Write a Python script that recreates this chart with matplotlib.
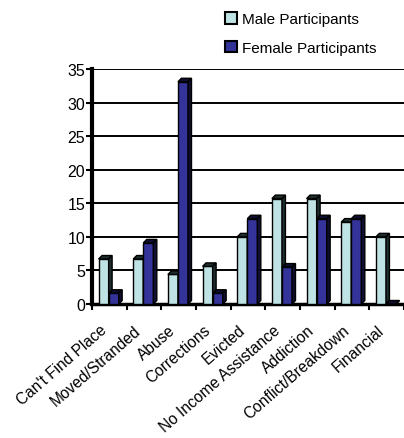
import numpy as np
import matplotlib.pyplot as plt
from matplotlib.patches import Polygon, Patch
from matplotlib.transforms import ScaledTranslation

categories = ["Can't Find Place", "Moved/Stranded", "Abuse", "Corrections",
              "Evicted", "No Income Assistance", "Addiction",
              "Conflict/Breakdown", "Financial"]
male = [6.7, 6.7, 4.4, 5.6, 10.0, 15.7, 15.7, 12.2, 10.0]
female = [1.6, 9.1, 33.1, 1.6, 12.7, 5.5, 12.7, 12.7, 0.0]
yticks = [0, 5, 10, 15, 20, 25, 30, 35]

male_color = '#bfe3e4'
female_color = '#333399'
male_side = '#1e2e2e'
female_side = '#0e0e30'

plt.rcParams['font.family'] = ['Liberation Sans', 'DejaVu Sans']

fig = plt.figure(figsize=(4.04, 4.39), dpi=100)
ax = fig.add_axes([92 / 404, 1 - 305 / 439, 312 / 404, 235 / 439])

bar_w = 0.29
dx, dy = 0.10, 0.52  # depth of the pseudo-3d faces (data units)


def draw_bar(x0, h, face, side):
    ax.bar(x0, h, width=bar_w, align='edge', color=face, edgecolor='black',
           linewidth=1.0, zorder=3)
    top = Polygon([(x0, h), (x0 + dx, h + dy), (x0 + bar_w + dx, h + dy),
                   (x0 + bar_w, h)], closed=True, facecolor=side,
                  edgecolor='black', linewidth=1.0, zorder=3)
    rside = Polygon([(x0 + bar_w, 0), (x0 + bar_w + dx, dy),
                     (x0 + bar_w + dx, h + dy), (x0 + bar_w, h)], closed=True,
                    facecolor=side, edgecolor='black', linewidth=1.0, zorder=3)
    ax.add_patch(top)
    ax.add_patch(rside)


x = np.arange(len(categories))
for i in x:
    draw_bar(i + 0.19, male[i], male_color, male_side)
    draw_bar(i + 0.19 + bar_w, female[i], female_color, female_side)

ax.set_xlim(0, len(categories))
ax.set_ylim(0, 35)
ax.set_yticks(yticks)
ax.yaxis.grid(True, color='black', linewidth=1.4, zorder=0)
ax.set_axisbelow(True)

ax.set_xticks(np.arange(len(categories) + 1))
ax.set_xticklabels([])
ax.set_xticks(x + 0.5, minor=True)
ax.set_xticklabels(categories, minor=True, rotation=41, ha='right',
                   va='top', rotation_mode='anchor', fontsize=11.2)
ax.tick_params(axis='x', which='minor', length=0, pad=13)
shift = ScaledTranslation(-10 / 100, 0, fig.dpi_scale_trans)
for lbl in ax.get_xticklabels(minor=True):
    lbl.set_transform(lbl.get_transform() + shift)

ax.tick_params(axis='both', which='major', length=4, width=1.5,
               direction='out', labelsize=11.5)
ax.tick_params(axis='y', pad=1)

for s in ['top', 'right']:
    ax.spines[s].set_visible(False)
ax.spines['left'].set_linewidth(3.0)
ax.spines['bottom'].set_linewidth(2.5)

handles = [Patch(facecolor=male_color, edgecolor='black', linewidth=1.5),
           Patch(facecolor=female_color, edgecolor='black', linewidth=1.5)]
fig.legend(handles, ['Male Participants', 'Female Participants'],
           loc='upper left', bbox_to_anchor=(219 / 404, 1 - 7 / 439),
           frameon=False, fontsize=11, handlelength=0.8, handleheight=0.8,
           handletextpad=0.3, labelspacing=0.95, borderaxespad=0)

fig.savefig('out.png', dpi=100)
